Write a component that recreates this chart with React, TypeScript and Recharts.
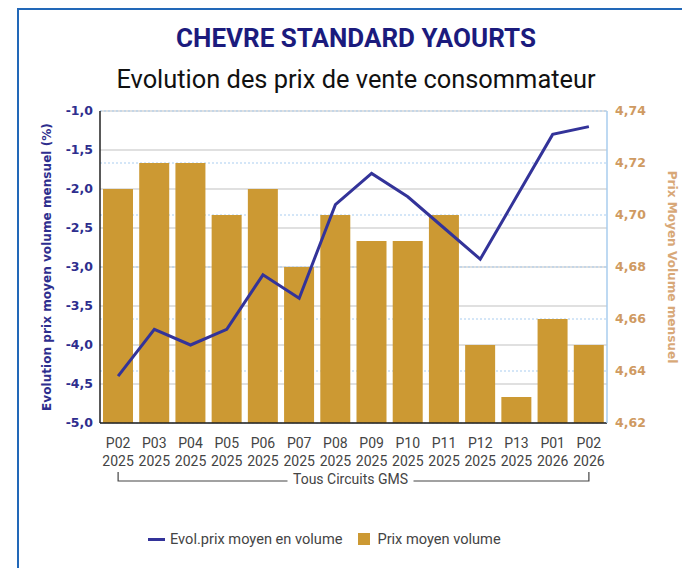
import { Bar, CartesianGrid, ComposedChart, Line, XAxis, YAxis } from "recharts";

const periods = ["P02", "P03", "P04", "P05", "P06", "P07", "P08", "P09", "P10", "P11", "P12", "P13", "P01", "P02"];
const years = ["2025", "2025", "2025", "2025", "2025", "2025", "2025", "2025", "2025", "2025", "2025", "2025", "2026", "2026"];
const evolPct = [-4.4, -3.8, -4.0, -3.8, -3.1, -3.4, -2.2, -1.8, -2.1, -2.5, -2.9, -2.1, -1.3, -1.2];
const prixMoyen = [4.71, 4.72, 4.72, 4.7, 4.71, 4.68, 4.7, 4.69, 4.69, 4.7, 4.65, 4.63, 4.66, 4.65];
const leftTicks = [-5, -4.5, -4, -3.5, -3, -2.5, -2, -1.5, -1];
const rightTicks = [4.62, 4.64, 4.66, 4.68, 4.7, 4.72, 4.74];

const data = periods.map((p, i) => ({
    key: `${p} ${years[i]}`,
    evol: evolPct[i],
    prix: prixMoyen[i],
}));

const W = 682;
const H = 568;
const PLOT_LEFT = 100;
const PLOT_RIGHT = 607;
const NAVY = "#2e2e8e";
const GOLD = "#cc9933";
const TAN = "#cf9a62";
const LABEL_FONT = "Roboto, sans-serif";
const TICK_FONT = "'DejaVu Sans', sans-serif";

function CategoryTick(props: any) {
    const { x, y, payload, index } = props;
    const [p, yr] = String(payload.value).split(" ");
    const step = (PLOT_RIGHT - PLOT_LEFT) / periods.length;
    const first = PLOT_LEFT + step / 2;
    const last = PLOT_RIGHT - step / 2;
    const mid = (PLOT_LEFT + PLOT_RIGHT) / 2;
    return (
        <g>
            <text x={x} y={y + 23} textAnchor="middle" fill="#444" fontSize={14} fontFamily={LABEL_FONT}>
                {p}
            </text>
            <text x={x} y={y + 41} textAnchor="middle" fill="#444" fontSize={14} fontFamily={LABEL_FONT}>
                {yr}
            </text>
            {index === 0 && (
                <g stroke="#444" strokeWidth={1.2} fill="none">
                    <polyline points={`${first},${y + 47} ${first},${y + 56} ${mid - 66},${y + 56}`} />
                    <polyline points={`${mid + 60},${y + 56} ${last},${y + 56} ${last},${y + 47}`} />
                    <text
                        x={mid - 3}
                        y={y + 59}
                        textAnchor="middle"
                        fill="#444"
                        stroke="none"
                        fontSize={14}
                        fontFamily={LABEL_FONT}
                    >
                        Tous Circuits GMS
                    </text>
                </g>
            )}
        </g>
    );
}

const fmt = (d: number) => (v: number) => v.toFixed(d).replace(".", ",");

export default function App() {
    return (
        <div
            style={{
                position: "absolute",
                left: 0,
                top: 0,
                width: W,
                height: H,
                overflow: "hidden",
                background: "#fff",
            }}
        >
            <div
                style={{
                    position: "absolute",
                    left: 17,
                    top: 8,
                    width: 720,
                    height: 620,
                    border: "2px solid #2268b8",
                }}
            />
            <div
                style={{
                    position: "absolute",
                    left: 0,
                    width: 712,
                    top: 23,
                    textAlign: "center",
                    fontFamily: LABEL_FONT,
                    fontWeight: 700,
                    fontSize: 26,
                    color: "#1b1b7d",
                }}
            >
                CHEVRE STANDARD YAOURTS
            </div>
            <div
                style={{
                    position: "absolute",
                    left: 0,
                    width: 712,
                    top: 64,
                    textAlign: "center",
                    fontFamily: LABEL_FONT,
                    fontSize: 25.4,
                    color: "#111",
                }}
            >
                Evolution des prix de vente consommateur
            </div>
            <div style={{ position: "absolute", left: 0, top: 0 }}>
                <ComposedChart
                    width={W}
                    height={H}
                    data={data}
                    margin={{ top: 111, right: 0, bottom: 65, left: 0 }}
                >
                    <CartesianGrid yAxisId="left" vertical={false} stroke="#d6d6d6" strokeWidth={1.5} />
                    <CartesianGrid
                        yAxisId="right"
                        vertical={false}
                        stroke="#a9cdf0"
                        strokeDasharray="2 2"
                    />
                    <XAxis
                        dataKey="key"
                        interval={0}
                        height={80}
                        tickSize={0}
                        tickLine={false}
                        axisLine={{ stroke: "#222", strokeWidth: 1.5 }}
                        tick={<CategoryTick />}
                    />
                    <YAxis
                        yAxisId="left"
                        orientation="left"
                        width={100}
                        domain={[-5, -1]}
                        ticks={leftTicks}
                        tickFormatter={fmt(1)}
                        tickSize={0}
                        tickMargin={7}
                        axisLine={{ stroke: "#222", strokeWidth: 1.5 }}
                        tick={{ fill: NAVY, fontSize: 12.5, fontWeight: 700, fontFamily: TICK_FONT }}
                        label={{
                            content: ({ viewBox }: any) => {
                                const cx = 47;
                                const cy = viewBox.y + viewBox.height / 2;
                                return (
                                    <text
                                        x={cx}
                                        y={cy}
                                        transform={`rotate(-90 ${cx} ${cy})`}
                                        textAnchor="middle"
                                        dominantBaseline="central"
                                        fill={NAVY}
                                        fontSize={12.1}
                                        fontWeight={700}
                                        fontFamily={TICK_FONT}
                                    >
                                        Evolution prix moyen volume mensuel (%)
                                    </text>
                                );
                            },
                        }}
                    />
                    <YAxis
                        yAxisId="right"
                        orientation="right"
                        width={75}
                        domain={[4.62, 4.74]}
                        ticks={rightTicks}
                        tickFormatter={fmt(2)}
                        tickSize={0}
                        tickMargin={8}
                        axisLine={{ stroke: "#a9cdee", strokeWidth: 1.5 }}
                        tick={{ fill: TAN, fontSize: 12.5, fontWeight: 700, fontFamily: TICK_FONT }}
                        label={{
                            content: ({ viewBox }: any) => {
                                const cx = 672;
                                const cy = viewBox.y + viewBox.height / 2;
                                return (
                                    <text
                                        x={cx}
                                        y={cy}
                                        transform={`rotate(90 ${cx} ${cy})`}
                                        textAnchor="middle"
                                        dominantBaseline="central"
                                        fill="#d8a878"
                                        fontSize={12.1}
                                        fontWeight={700}
                                        fontFamily={TICK_FONT}
                                    >
                                        Prix Moyen Volume mensuel
                                    </text>
                                );
                            },
                        }}
                    />
                    <Bar yAxisId="right" dataKey="prix" fill={GOLD} barSize={30} isAnimationActive={false} />
                    <Line
                        yAxisId="left"
                        dataKey="evol"
                        type="linear"
                        stroke="#333399"
                        strokeWidth={3}
                        dot={false}
                        isAnimationActive={false}
                    />
                </ComposedChart>
            </div>
            <div
                style={{
                    position: "absolute",
                    left: 148,
                    top: 530,
                    display: "flex",
                    alignItems: "center",
                    fontFamily: LABEL_FONT,
                    fontSize: 14.6,
                    color: "#444",
                    whiteSpace: "nowrap",
                }}
            >
                <span style={{ width: 17, height: 3, background: "#333399", marginRight: 5 }} />
                <span>Evol.prix moyen en volume</span>
                <span style={{ width: 12, height: 12, background: GOLD, marginLeft: 16, marginRight: 7 }} />
                <span>Prix moyen volume</span>
            </div>
        </div>
    );
}
